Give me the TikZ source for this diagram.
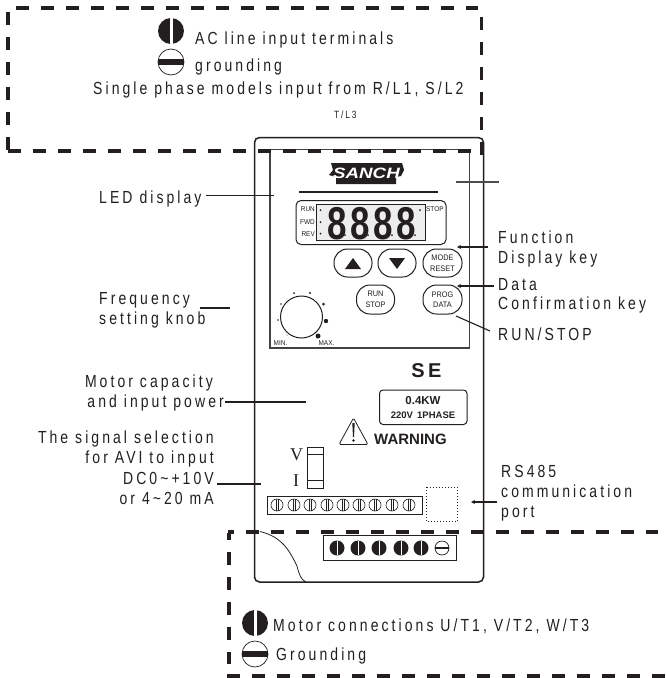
\documentclass[tikz,border=0pt]{standalone}
\usepackage{fontspec}
\usetikzlibrary{arrows.meta}
\setmainfont{Liberation Sans}
\newfontfamily\lab[FakeStretch=.8,LetterSpace=17.5]{Liberation Sans}
\newfontfamily\panelf[FakeStretch=.92]{Liberation Sans}
\newfontfamily\digf[FakeStretch=.76,LetterSpace=8]{Liberation Sans}
\newfontfamily\logof[FakeStretch=1.25]{Liberation Sans}
\newfontfamily\serf{Liberation Serif}
\definecolor{ink}{HTML}{231F20}
\tikzset{
  lbl/.style={inner sep=0pt,anchor=base west,text=ink,font=\fontsize{17.5}{17.5}\lab},
  lblr/.style={inner sep=0pt,anchor=base east,text=ink,font=\fontsize{17.5}{17.5}\lab},
  pan/.style={inner sep=0pt,text=ink,font=\fontsize{8}{9}\panelf},
  dashbox/.style={line width=3.2pt,draw=ink,dash pattern=on 12.5pt off 12.5pt},
  conn/.style={draw=ink,line width=1.8pt},
  connthin/.style={draw=ink,line width=1.1pt},
  arr/.style={-{Stealth[length=4pt,width=4pt]}},
  btn/.style={draw=ink,line width=1pt,fill=white},
  scr/.style={draw=ink,line width=.6pt,fill=white}
}
% filled screw, vertical slot
\newcommand{\vscrew}[3]{%
  \fill[ink] (#1,#2) circle[radius=#3pt];
  \fill[white] ({#1-.14*#3},{#2-.97*#3}) rectangle ({#1+.14*#3},{#2+.97*#3});
  \draw[ink,line width=.5pt] ({#1-.14*#3},{#2-.97*#3}) -- ({#1-.14*#3},{#2+.97*#3});
}
% open circle with horizontal bar
\newcommand{\gscrew}[3]{%
  \draw[ink,line width=.7pt,fill=white] (#1,#2) circle[radius=#3pt];
  \fill[ink] ({#1-#3},{#2-.2*#3}) rectangle ({#1+#3},{#2+.2*#3});
}
\begin{document}
\begin{tikzpicture}[x=1pt,y=-1pt]
\useasboundingbox (0,0) rectangle (665,678);
\fill[white] (0,0) rectangle (665,678);

% device body
\draw[ink,line width=1.5pt,rounded corners=5pt] (254.5,137.5) rectangle (483.5,582);
\draw[ink!85,line width=1.3pt] (270,149.5) rectangle (469.5,348);
\draw[ink,line width=.8pt] (260,531.5) .. controls (283,537) and (290,552) .. (297,566) .. controls (299,574) and (301,580) .. (306,582);

% logo
\fill[ink] (331,163) -- (402,163) -- (404,170) -- (401,176) -- (396,177) -- (396,184) -- (336,184) -- (336,177) -- (329,175) -- (333,170) -- cycle;
\node[inner sep=0pt,text=white] (logo) at (366.5,173.5) {\fontsize{15}{15}\logof\bfseries\itshape SANCH};
\draw[ink,line width=1.2pt] (299,192) -- (438,192);

% display
\draw[ink,line width=1pt,rounded corners=5pt] (296,200.5) rectangle (446,244.5);
\draw[ink,line width=.9pt,fill=ink!8] (316,204.5) rectangle (425,240.5);
\node[inner sep=0pt,anchor=base west,text=ink] (digits) at (327,239) {\fontsize{46}{46}\digf\bfseries 8888};
\node[pan,anchor=east,font=\fontsize{7}{7}\panelf] (run) at (315,209.5) {RUN};
\node[pan,anchor=east,font=\fontsize{7}{7}\panelf] (fwd) at (315,222) {FWD};
\node[pan,anchor=east,font=\fontsize{7}{7}\panelf] (rev) at (315,234) {REV};
\node[pan,anchor=west,font=\fontsize{7}{7}\panelf] (stopl) at (426,209.5) {STOP};
\foreach \p in {(320.5,210),(320.5,222),(320.5,233.5),(420,210),(345,235),(368,235),(392,235),(415,235)}
  \fill[ink] \p circle[radius=1pt];

% buttons
\node[btn,draw,rounded corners=13.5pt,minimum width=38pt,minimum height=28pt,inner sep=0pt] (up) at (353,263) {};
\node[btn,draw,rounded corners=13.5pt,minimum width=38pt,minimum height=28pt,inner sep=0pt] (down) at (397,263) {};
\node[btn,draw,rounded corners=13.5pt,minimum width=39pt,minimum height=28pt,inner sep=0pt,pan,align=center,font=\fontsize{8}{10.5}\panelf] (mode) at (442.5,263) {MODE\\RESET};
\node[btn,draw,rounded corners=13.5pt,minimum width=38pt,minimum height=29pt,inner sep=0pt,pan,align=center,font=\fontsize{8}{10.5}\panelf] (runstop) at (375.5,299.5) {RUN\\STOP};
\node[btn,draw,rounded corners=13.5pt,minimum width=39pt,minimum height=29pt,inner sep=0pt,pan,align=center,font=\fontsize{8}{10.5}\panelf] (prog) at (442.5,299.5) {PROG\\DATA};
\fill[ink] (353,258) -- (361,269) -- (345,269) -- cycle;
\fill[ink] (397,269) -- (389,258) -- (405,258) -- cycle;

% knob
\draw[ink,line width=1pt] (301.5,317) circle[radius=21pt];
\foreach \x/\y/\r in {294/293/1,310/293/1.1,281/304/.9,323.5/304/1.5,278/320/.8,326/321/2.2,287/335/.5,318/336/2.5}
  \fill[ink] (\x,\y) circle[radius=\r pt];
\node[pan,font=\fontsize{7}{7}\panelf] (minl) at (280.5,343.5) {MIN.};
\node[pan,font=\fontsize{7}{7}\panelf] (maxl) at (326.5,343.5) {MAX.};

% rating
\node[inner sep=0pt,text=ink,font=\fontsize{20}{20}\selectfont\bfseries] (se) at (426.5,371) {S\,E};
\draw[ink,line width=1pt,rounded corners=3.5pt] (379.5,390) rectangle (467,424.5);
\node[inner sep=0pt,text=ink,font=\fontsize{11.5}{12}\selectfont\bfseries] (kw) at (423,401) {0.4KW};
\node[inner sep=0pt,text=ink,font=\fontsize{9.5}{10}\selectfont\bfseries] (ph) at (423,415.5) {220V\, 1PHASE};

% warning
\draw[ink,line width=.8pt,rounded corners=1.5pt] (353.5,418) -- (368,444.5) -- (339,444.5) -- cycle;
\fill[ink] (352.3,423) -- (354.7,423) -- (354,437) -- (353,437) -- cycle;
\fill[ink] (353.5,440.5) circle[radius=1.4pt];
\node[inner sep=0pt,anchor=base west,text=ink,font=\fontsize{15}{15}\selectfont\bfseries] (warn) at (374,444.5) {WARNING};

% V I switch
\node[inner sep=0pt,text=ink,font=\fontsize{18}{18}\serf] (vl) at (296.5,455) {V};
\node[inner sep=0pt,text=ink,font=\fontsize{18}{18}\serf] (il) at (296,481) {I};
\draw[ink,line width=1pt] (307.5,447) rectangle (323.5,488);
\draw[ink,line width=1pt] (307.5,454.5) -- (323.5,454.5) (307.5,480) -- (323.5,480);

% control terminal strip
\draw[ink,line width=1pt] (267,496) rectangle (422,514);
\foreach \x in {277,294,310,327,343,359,375,392,409}{
  \draw[ink,line width=.6pt] (\x,505) circle[radius=6pt];
  \draw[ink,line width=.5pt] (\x-1.2,499.2) -- (\x-1.2,510.8) (\x+1.2,499.2) -- (\x+1.2,510.8);
}
\draw[ink,line width=1pt,dotted] (426.5,487) rectangle (457,521.5);

% power terminal strip
\draw[ink,line width=.9pt] (323.5,535.5) rectangle (456.5,560);
\foreach \x in {337,358,379,401,421} {\vscrew{\x}{548}{7.5}}
\gscrew{442}{548}{7}

% dashed boxes
\draw[dashbox] (16,8) -- (478,8);
\draw[dashbox] (8,12) -- (8,150);
\draw[dashbox] (8,151) -- (478,151);
\draw[dashbox] (481.5,17) -- (481.5,155);
\draw[dashbox,dash phase=7pt] (228,532) -- (658,532);
\draw[dashbox,dash phase=6pt] (229,533) -- (229,664);
\draw[dashbox] (227,676) -- (665,676);

% top legend
\vscrew{171}{31}{13}
\gscrew{171}{62}{13}
\node[lbl] (acl) at (195,44) {AC line input terminals};
\node[lbl] (gnd1) at (195,71) {grounding};
\node[lbl] (single) at (93,94) {Single phase models input from R/L1, S/L2};
\node[inner sep=0pt,anchor=base west,text=ink,font=\fontsize{10.5}{11}\lab] (tl3) at (334,118) {T/L3};

% left labels
\node[lbl] (led) at (99,203) {LED display};
\node[lbl] (freq1) at (99,304) {Frequency};
\node[lbl] (freq2) at (99,324) {setting knob};
\node[lblr] (mot1) at (213,387) {Motor capacity};
\node[lblr] (mot2) at (224,407) {and input power};
\node[lblr] (sig1) at (214,443) {The signal selection};
\node[lblr] (sig2) at (214,463) {for AVI to input};
\node[lblr] (sig3) at (214,484) {DC0\textasciitilde +10V};
\node[lblr] (sig4) at (214,504) {or 4\textasciitilde 20 mA};

% right labels
\node[lbl] (fn1) at (498,243) {Function};
\node[lbl] (fn2) at (498,263) {Display key};
\node[lbl] (dat1) at (498,290) {Data};
\node[lbl] (dat2) at (498,309) {Confirmation key};
\node[lbl] (rs) at (498,340) {RUN/STOP};
\node[lbl] (r1) at (501,477) {RS485};
\node[lbl] (r2) at (501,497) {communication};
\node[lbl] (r3) at (501,517) {port};

% bottom legend
\vscrew{255}{623}{13}
\gscrew{255}{654}{13}
\node[lbl] (mc) at (273,631) {Motor connections U/T1, V/T2, W/T3};
\node[lbl] (gnd2) at (276,660) {Grounding};

% connectors
\coordinate (c1) at (206,195.5); \coordinate (c1e) at (274,195.5);
\coordinate (c2) at (200,308); \coordinate (c2e) at (230,308);
\coordinate (c3) at (225,402); \coordinate (c3e) at (306,402);
\coordinate (c4) at (217,484); \coordinate (c4e) at (261,484);
\coordinate (c5) at (456,182); \coordinate (c5e) at (499,182);
\coordinate (c6) at (488,247); \coordinate (c6e) at (457,247);
\coordinate (c7) at (494,286); \coordinate (c7e) at (457,286);
\coordinate (c8) at (456,316); \coordinate (c8e) at (490,331);
\coordinate (c9) at (497,502); \coordinate (c9e) at (471,502);
\draw[conn] (c1) -- (c1e);
\draw[conn] (c2) -- (c2e);
\draw[connthin] (c3) -- (c3e);
\draw[conn] (c4) -- (c4e);
\draw[connthin,draw=ink!80] (c5) -- (c5e);
\draw[conn,arr] (c6) -- (c6e);
\draw[conn,arr] (c7) -- (c7e);
\draw[connthin] (c8) -- (c8e);
\draw[connthin,arr] (c9) -- (c9e);
\end{tikzpicture}
\end{document}
